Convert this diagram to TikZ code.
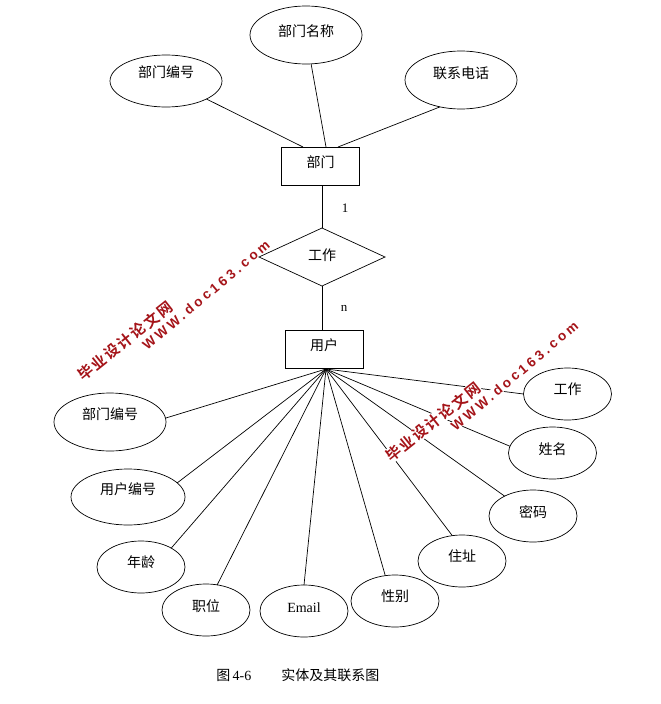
\documentclass[tikz,border=0pt]{standalone}
\usepackage{fontspec}
\setmainfont{Liberation Serif}
\newfontfamily\cjk{Noto Sans CJK SC}
\newfontfamily\markcjk[LetterSpace=12]{Noto Sans CJK SC Bold}
\newfontfamily\marklatin[LetterSpace=24]{Liberation Sans Bold}
\usetikzlibrary{shapes.geometric}
\definecolor{markred}{RGB}{165,20,25}
\tikzset{
  lbl/.style={font=\fontsize{14}{16}\selectfont\cjk, text height=10pt, text depth=8.4pt, inner sep=0pt, outer sep=0pt},
  lift/.style={text depth=#1},
  attr/.style={lbl, draw, ellipse, minimum width=88pt, minimum height=52pt},
  wideattr/.style={attr, minimum width=112pt, minimum height=56pt},
  entity/.style={lbl, draw, rectangle, minimum width=78pt, minimum height=38pt, lift=6.4pt},
  relation/.style={lbl, draw, diamond, aspect=2.17, minimum width=126pt, minimum height=58pt, lift=2.4pt},
  card/.style={font=\fontsize{13}{15}\selectfont},
  wmcjk/.style={text=markred, rotate=38.5, fill=white, inner sep=0.5pt, font=\fontsize{15}{17}\selectfont\markcjk},
  wmlatin/.style={text=markred, rotate=40, font=\fontsize{13.5}{16}\selectfont\marklatin}
}
\begin{document}
\begin{tikzpicture}[x=1pt, y=-1pt, line width=0.7pt]
  \useasboundingbox[fill=white] (0,0) rectangle (661,704);
  \node[entity] (dept) at (320.5,166) {部门};
  \node[relation] (work) at (322,257) {工作};
  \node[entity] (user) at (324,349) {用户};
  \node[wideattr, minimum height=52pt, lift=16.4pt] (dnum) at (166,81) {部门编号};
  \node[wideattr, minimum height=58pt, lift=6.4pt] (dname) at (306,35) {部门名称};
  \node[wideattr, minimum height=58pt, lift=12.4pt] (dtel) at (461,80) {联系电话};
  \node[wideattr, minimum height=58pt, lift=14.4pt] (udept) at (110,422) {部门编号};
  \node[wideattr, minimum width=114pt, lift=14.4pt] (unum) at (128,497) {用户编号};
  \node[attr] (uage) at (141,567) {年龄};
  \node[attr, lift=6.4pt] (ujob) at (206,610) {职位};
  \node[attr, font=\fontsize{14}{16}\selectfont, lift=6.4pt] (umail) at (304,611) {Email};
  \node[attr] (usex) at (395,601) {性别};
  \node[attr] (uaddr) at (462,561) {住址};
  \node[attr, lift=6.4pt] (upwd) at (533,516) {密码};
  \node[attr, lift=6.4pt] (uname) at (552.5,453) {姓名};
  \node[attr] (uwork) at (567.5,394) {工作};
  \coordinate (fan) at (326,369);
  \coordinate (deptl) at (303,147);
  \coordinate (deptm) at (326,147);
  \coordinate (deptr) at (338,147);
  \coordinate (deptb) at (322,185);
  \coordinate (usert) at (322,330);
  \draw (dnum.-24) -- (deptl);
  \draw (dname.-80) -- (deptm);
  \draw (dtel.232) -- (deptr);
  \draw (deptb) -- (work.north);
  \draw (work.south) -- (usert);
  \draw (fan) -- (udept.4);
  \draw (fan) -- (unum.16);
  \draw (fan) -- (uage.32);
  \draw (fan) -- (ujob.66);
  \draw (fan) -- (umail.90);
  \draw (fan) -- (usex.111);
  \draw (fan) -- (uaddr.111);
  \draw (fan) -- (upwd.145);
  \draw (fan) -- (uname.171);
  \draw (fan) -- (uwork.180);
  \node[card] (one) at (345,208) {1};
  \node[card] (many) at (344,308) {n};
  \node[font=\fontsize{14}{16}\selectfont, anchor=west, inner sep=0pt] (caption) at (216,675) {{\cjk 图}\,4-6\hspace{30pt}{\cjk 实体及其联系图}};
  \node[wmlatin] (markla) at (206,295) {WWW.doc163.com};
  \node[wmlatin, fill=white, inner sep=0pt] (markra) at (514.5,376) {WWW.doc163.com};
  \node[wmcjk] (markl) at (125,341) {毕业设计论文网};
  \node[wmcjk] (markr) at (433,422) {毕业设计论文网};
\end{tikzpicture}
\end{document}
